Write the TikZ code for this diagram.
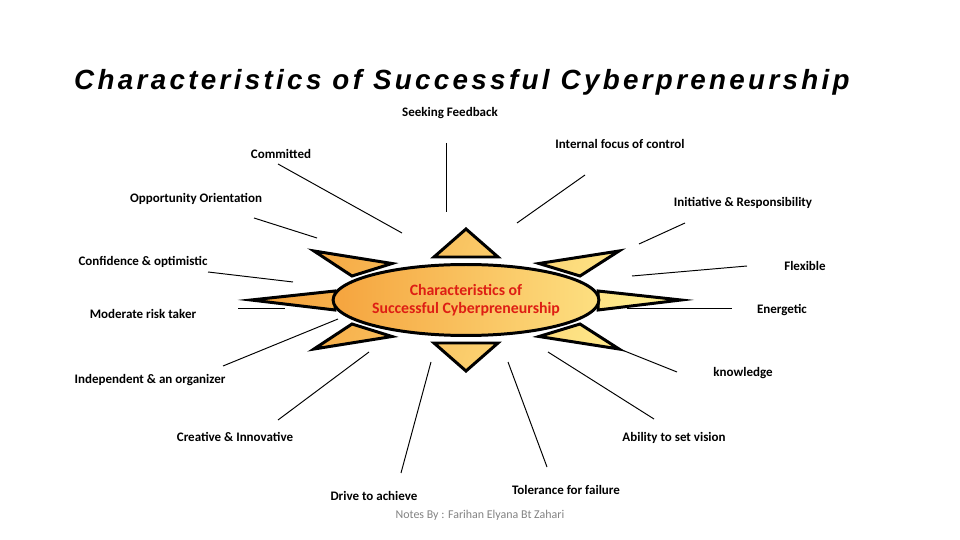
\documentclass[tikz,border=0pt]{standalone}
\usepackage{fontspec}
\setmainfont{Carlito}
\newfontfamily\titlefont[LetterSpace=12]{Liberation Sans}
\usetikzlibrary{shapes.geometric}
\definecolor{sunorange}{RGB}{245,164,62}
\definecolor{sunyellow}{RGB}{255,238,145}
\definecolor{corered}{RGB}{222,30,20}
\definecolor{notegray}{RGB}{130,130,130}

\begin{document}
\begin{tikzpicture}[x=0.02cm,y=-0.02cm,
  lbl/.style={anchor=base,inner sep=0pt,font=\fontsize{7.4}{9}\selectfont\bfseries},
  rayline/.style={line width=0.55pt},
  sunray/.style={draw,line width=1.7pt,left color=sunorange,right color=sunyellow,shading angle=70}]
  \useasboundingbox (0,0) rectangle (960,540);

  \node[anchor=base,inner sep=0pt,font=\titlefont\fontsize{15.8}{18}\selectfont\bfseries\itshape] (title) at (462,90) {Characteristics of Successful Cyberpreneurship};

  % rays
  \draw[rayline] (446,143) -- (446,212);
  \draw[rayline] (278,164) -- (402,233);
  \draw[rayline] (585,175) -- (517,223);
  \draw[rayline] (254,218) -- (317,238);
  \draw[rayline] (685,223) -- (639,244);
  \draw[rayline] (208,272) -- (293,282);
  \draw[rayline] (747,266) -- (632,276);
  \draw[rayline] (238,308) -- (285,308);
  \draw[rayline] (627,308) -- (732,308);
  \draw[rayline] (223,366) -- (338,319);
  \draw[rayline] (622,350) -- (677,372);
  \draw[rayline] (278,420) -- (369,352);
  \draw[rayline] (654,419) -- (548,352);
  \draw[rayline] (401,473) -- (431,362);
  \draw[rayline] (547,467) -- (508,362);

  % sun
  \shade[sunray]
    (466,229) -- (498,257) -- (434,257) -- cycle
    (434,343) -- (498,343) -- (466,371) -- cycle
    (314,251) -- (392,263.5) -- (352,276) -- cycle
    (251,300) -- (335,291) -- (335,310) -- cycle
    (352,324) -- (392,336.5) -- (314,349) -- cycle
    (539,263.5) -- (619,251) -- (580,276) -- cycle
    (598,291) -- (681,300) -- (598,310) -- cycle
    (580,324) -- (619,349) -- (539,336.5) -- cycle;
  \node[ellipse,draw,line width=1.7pt,minimum width=4.38cm,minimum height=1.42cm,inner sep=0pt,
    left color=sunorange,right color=sunyellow!80!sunorange,align=center,text=corered,
    font=\fontsize{9}{10.2}\selectfont\bfseries] (core) at (466,300) {Characteristics of\\Successful Cyberpreneurship};

  % labels
  \node[lbl] (seek) at (450,117) {Seeking Feedback};
  \node[lbl] (commit) at (281,159) {Committed};
  \node[lbl] (focus) at (620,149) {Internal focus of control};
  \node[lbl] (oppo) at (196,203) {Opportunity Orientation};
  \node[lbl] (init) at (743,207) {Initiative \& Responsibility};
  \node[lbl] (conf) at (143,266) {Confidence \& optimistic};
  \node[lbl] (flex) at (805,271) {Flexible};
  \node[lbl] (risk) at (143,319) {Moderate risk taker};
  \node[lbl] (energy) at (782,314) {Energetic};
  \node[lbl] (indep) at (150,383) {Independent \& an organizer};
  \node[lbl] (know) at (743,377) {knowledge};
  \node[lbl] (creat) at (235,441) {Creative \& Innovative};
  \node[lbl] (vision) at (674,441) {Ability to set vision};
  \node[lbl] (drive) at (374,500) {Drive to achieve};
  \node[lbl] (toler) at (566,494) {Tolerance for failure};
  \node[anchor=base,inner sep=0pt,text=notegray,font=\fontsize{6.8}{8}\selectfont] (notes) at (480,518) {Notes By : Farihan Elyana Bt Zahari};
\end{tikzpicture}
\end{document}
